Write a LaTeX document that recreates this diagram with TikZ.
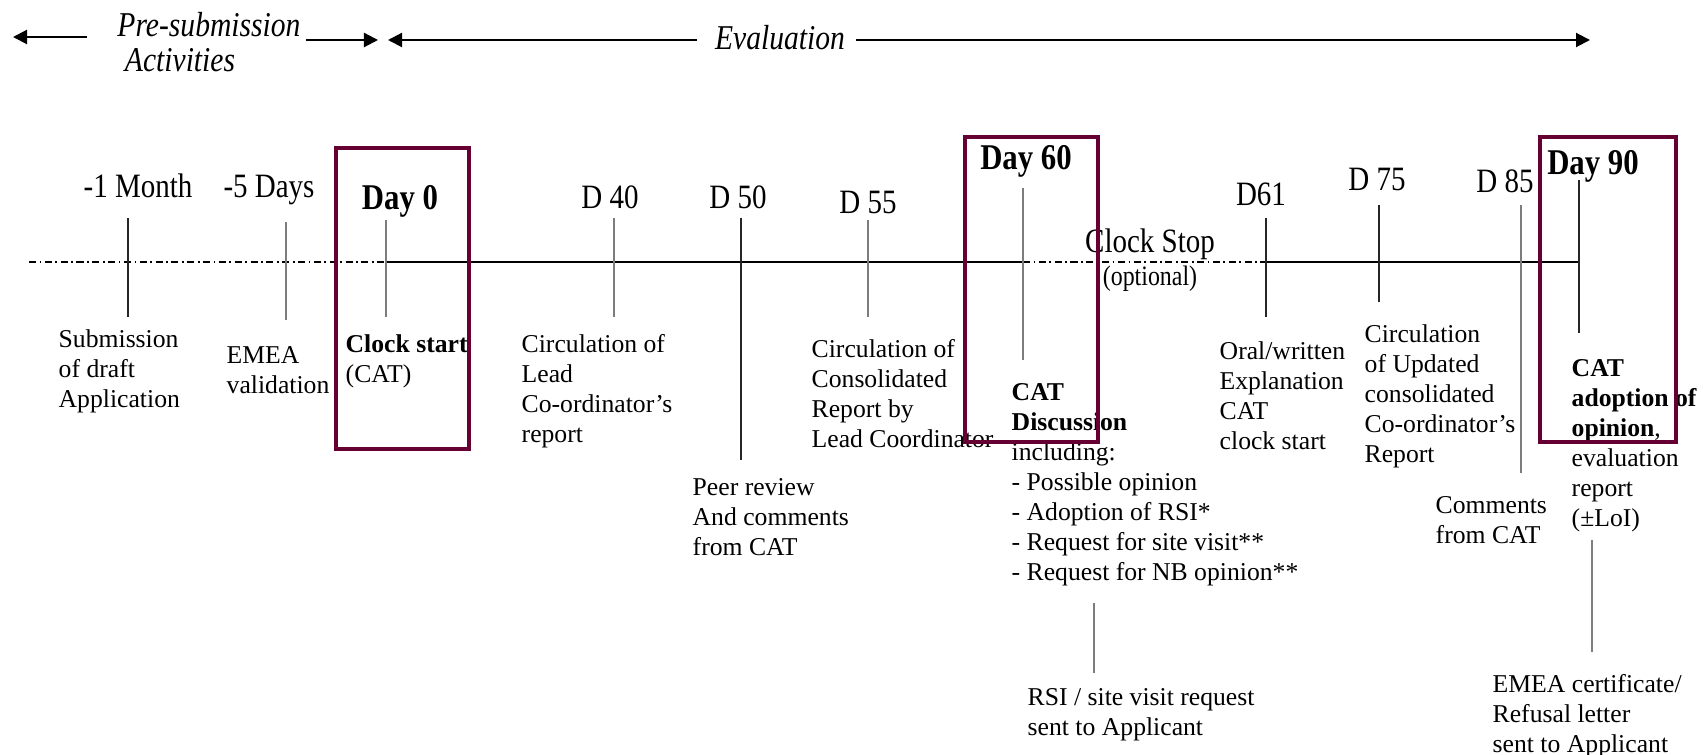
\documentclass[tikz,border=0pt]{standalone}
\usepackage{fontspec}
\setmainfont{Liberation Serif}
\newfontfamily\labelfont{Liberation Serif}[FakeStretch=0.85]
\usepackage{tikz}
\usetikzlibrary{arrows.meta,positioning}
\definecolor{BoxMaroon}{RGB}{102,0,51}
\definecolor{TickGray}{RGB}{125,125,125}

\begin{document}
\begin{tikzpicture}[x=0.01cm,y=-0.01cm,
    daylab/.style={font=\labelfont\fontsize{9.7}{11}\selectfont, anchor=base, inner sep=0},
    daybold/.style={font=\labelfont\fontsize{10.3}{12}\selectfont\bfseries, anchor=base, inner sep=0},
    txt/.style={font=\fontsize{7.3}{8.5}\selectfont, align=left, anchor=north west, inner sep=0},
    hdr/.style={font=\labelfont\fontsize{9.9}{11}\selectfont\itshape, anchor=base, inner sep=0},
    tick/.style={TickGray, line width=0.6pt},
    tickdark/.style={black!85, line width=0.6pt},
    axisdd/.style={line width=0.6pt, dash pattern=on 2pt off 1pt on 0.5pt off 1pt},
    frame/.style={BoxMaroon, line width=1.4pt},
    harrow/.style={-{Triangle[length=1.4mm,width=1.4mm]}, line width=0.6pt}]
  \useasboundingbox (0,0) rectangle (1703,755);

  % phases on top
  \node[hdr] (pre) at (209,37) {Pre-submission};
  \node[hdr] (act) at (180,72) {Activities};
  \node[hdr] (eval) at (780,50) {Evaluation};
  \coordinate (hl) at (13,37);
  \coordinate (hla) at (87,37);
  \coordinate (hm) at (306,40);
  \coordinate (hmb) at (378,40);
  \coordinate (hn) at (388,40);
  \coordinate (hr) at (1590,40);
  \draw[harrow] (hla) -- (hl);
  \draw[harrow] (hm) -- (hmb);
  \draw[harrow] ([xshift=-5pt]eval.west |- hn) -- (hn);
  \draw[harrow] ([xshift=3pt]eval.east |- hr) -- (hr);

  % time axis
  \coordinate (ax0) at (29,262);
  \coordinate (ax1) at (386,262);
  \coordinate (ax2) at (1023,262);
  \coordinate (ax3) at (1266,262);
  \coordinate (ax4) at (1579,262);
  \draw[axisdd] (ax0) -- (ax1);
  \draw[line width=0.6pt] (ax1) -- (ax2);
  \draw[axisdd] (ax2) -- (ax3);
  \draw[line width=0.6pt] (ax3) -- (ax4);

  % milestones
  \node[daylab] (m1) at (138,198) {-1 Month};
  \node[daylab] (d5) at (269,198) {-5 Days};
  \node[daybold] (d0) at (400,210) {Day 0};
  \node[daylab] (d40) at (610,209) {D 40};
  \node[daylab] (d50) at (738,209) {D 50};
  \node[daylab] (d55) at (868,214) {D 55};
  \node[daybold] (d60) at (1026,170) {Day 60};
  \node[daylab] (d61) at (1261,206) {D61};
  \node[daylab] (d75) at (1377,191) {D 75};
  \node[daylab] (d85) at (1505,193) {D 85};
  \node[daybold] (d90) at (1593,175) {Day 90};

  \coordinate (m1a) at (128,218);   \coordinate (m1b) at (128,317);
  \coordinate (d5a) at (286,222);   \coordinate (d5b) at (286,320);
  \coordinate (d0a) at (386,220);   \coordinate (d0b) at (386,317);
  \coordinate (d40a) at (614,218);  \coordinate (d40b) at (614,317);
  \coordinate (d50a) at (741,218);  \coordinate (d50b) at (741,460);
  \coordinate (d55a) at (868,220);  \coordinate (d55b) at (868,317);
  \coordinate (d60a) at (1023,188); \coordinate (d60b) at (1023,360);
  \coordinate (d61a) at (1266,218); \coordinate (d61b) at (1266,317);
  \coordinate (d75a) at (1379,205); \coordinate (d75b) at (1379,302);
  \coordinate (d85a) at (1521,205); \coordinate (d85b) at (1521,473);
  \coordinate (d90a) at (1579,180); \coordinate (d90b) at (1579,333);
  \draw[tickdark] (m1a) -- (m1b);
  \draw[tick] (d5a) -- (d5b);
  \draw[tick] (d0a) -- (d0b);
  \draw[tick] (d40a) -- (d40b);
  \draw[tickdark] (d50a) -- (d50b);
  \draw[tick] (d55a) -- (d55b);
  \draw[tick] (d60a) -- (d60b);
  \draw[tickdark] (d61a) -- (d61b);
  \draw[tickdark] (d75a) -- (d75b);
  \draw[tick] (d85a) -- (d85b);
  \draw[tickdark] (d90a) -- (d90b);

  \node[daylab] (stop) at (1150,253) {Clock Stop};
  \node[font=\labelfont\fontsize{8}{9}\selectfont, anchor=base, inner sep=0] (opt) at (1150,286) {(optional)};

  % what happens at each step
  \node[txt] (subm) at (58,329) {Submission\\of draft\\Application};
  \node[txt] (valid) at (226,346) {EMEA\\validation};
  \node[txt] (cstart) at (345,334) {\textbf{Clock start}\\(CAT)};
  \node[txt] (circ40) at (521,334) {Circulation of\\Lead\\Co-ordinator’s\\report};
  \node[txt] (peer) at (692,478) {Peer review\\And comments\\from CAT};
  \node[txt] (circ55) at (811,339) {Circulation of\\Consolidated\\Report by\\Lead Coordinator};
  \node[txt] (disc) at (1011,383) {\textbf{CAT}\\\textbf{Discussion}\\including:\\- Possible opinion\\- Adoption of RSI*\\- Request for site visit**\\- Request for NB opinion**};
  \node[txt] (rsi) at (1027,688) {RSI / site visit request\\sent to Applicant};
  \node[txt] (oral) at (1219,341) {Oral/written\\Explanation\\CAT\\clock start};
  \node[txt] (circ75) at (1364,324) {Circulation\\of Updated\\consolidated\\Co-ordinator’s\\Report};
  \node[txt] (comm) at (1435,496) {Comments\\from CAT};
  \node[txt] (adopt) at (1571,359) {\textbf{CAT}\\\textbf{adoption of}\\\textbf{opinion},\\evaluation\\report\\(±LoI)};
  \node[txt] (cert) at (1492,674) {EMEA certificate/\\Refusal letter\\sent to Applicant};

  \coordinate (rsia) at (1094,603); \coordinate (rsib) at (1094,673);
  \coordinate (certa) at (1592,540); \coordinate (certb) at (1592,652);
  \draw[tick] (rsia) -- (rsib);
  \draw[tick] (certa) -- (certb);

  % key days
  \draw[frame] (336,148) rectangle (469,449);
  \draw[frame] (965,137) rectangle (1098,442);
  \draw[frame] (1540,137) rectangle (1676,442);
\end{tikzpicture}
\end{document}
